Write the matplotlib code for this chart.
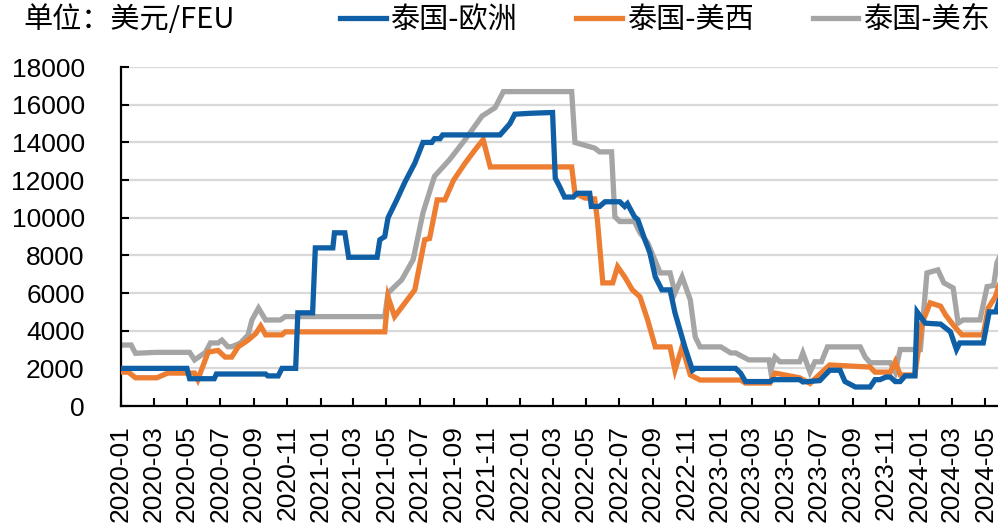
import pandas as pd
import matplotlib
matplotlib.use('Agg')
import matplotlib.pyplot as plt
import matplotlib.dates as mdates
from matplotlib.ticker import MultipleLocator

# 泰国-欧洲
eu_dates = ['2020-01-01', '2020-05-01', '2020-05-06', '2020-06-20', '2020-06-24', '2020-09-22',
            '2020-09-26', '2020-10-15', '2020-10-22', '2020-11-16', '2020-11-20', '2020-12-17',
            '2020-12-22', '2021-01-23', '2021-01-26', '2021-02-14', '2021-02-21', '2021-04-14',
            '2021-04-19', '2021-04-28', '2021-05-04', '2021-05-20', '2021-06-04', '2021-06-22',
            '2021-07-07', '2021-07-23', '2021-07-28', '2021-08-07', '2021-08-12', '2021-11-25',
            '2021-12-04', '2021-12-13', '2021-12-22', '2022-01-20', '2022-03-01', '2022-03-06',
            '2022-03-14', '2022-03-23', '2022-04-08', '2022-04-15', '2022-05-08', '2022-05-11',
            '2022-05-26', '2022-06-05', '2022-07-02', '2022-07-11', '2022-07-16', '2022-07-29',
            '2022-08-04', '2022-08-17', '2022-08-26', '2022-09-05', '2022-09-17', '2022-10-02',
            '2022-10-11', '2022-10-20', '2022-10-29', '2022-11-12', '2022-11-17', '2023-01-30',
            '2023-02-08', '2023-02-17', '2023-04-03', '2023-04-08', '2023-05-27', '2023-06-02',
            '2023-07-03', '2023-07-21', '2023-08-09', '2023-08-18', '2023-09-06', '2023-10-03',
            '2023-10-12', '2023-10-21', '2023-11-01', '2023-11-09', '2023-11-18', '2023-11-27',
            '2023-12-06', '2023-12-24', '2023-12-28', '2024-01-12', '2024-02-09', '2024-02-27',
            '2024-03-09', '2024-03-15', '2024-04-27', '2024-05-08', '2024-05-20', '2024-05-28']
eu_values = [2000, 2000, 1450, 1450, 1700, 1700,
             1600, 1600, 2000, 2000, 4950, 4950,
             8400, 8400, 9200, 9200, 7900, 7900,
             8830, 9000, 10000, 10950, 11900, 12900,
             14000, 14000, 14200, 14200, 14400, 14400,
             14700, 15000, 15500, 15550, 15590, 12100,
             11650, 11100, 11100, 11300, 11300, 10600,
             10600, 10850, 10850, 10600, 10750, 10050,
             9900, 8830, 8140, 6860, 6170, 6170,
             4950, 4050, 3140, 1900, 2000, 2000,
             1750, 1300, 1300, 1400, 1400, 1280,
             1350, 1900, 1900, 1300, 1010, 1010,
             1400, 1400, 1540, 1540, 1300, 1300,
             1600, 1600, 5000, 4400, 4350, 3940,
             3000, 3350, 3350, 5000, 5000, 5800]

# 泰国-美西
usw_dates = ['2020-01-01', '2020-01-15', '2020-01-28', '2020-03-07', '2020-03-27', '2020-05-15',
             '2020-05-21', '2020-06-09', '2020-06-27', '2020-07-10', '2020-07-22', '2020-08-03',
             '2020-08-21', '2020-09-04', '2020-09-13', '2020-09-22', '2020-10-22', '2020-10-28',
             '2021-04-28', '2021-05-04', '2021-05-16', '2021-06-22', '2021-07-10', '2021-07-19',
             '2021-08-02', '2021-08-16', '2021-09-01', '2021-09-22', '2021-10-10', '2021-10-25',
             '2021-11-07', '2022-04-05', '2022-04-11', '2022-04-29', '2022-05-17', '2022-05-22',
             '2022-06-01', '2022-06-19', '2022-06-28', '2022-07-11', '2022-07-25', '2022-08-08',
             '2022-08-22', '2022-09-05', '2022-10-02', '2022-10-11', '2022-10-24', '2022-11-08',
             '2022-11-26', '2023-02-08', '2023-02-17', '2023-04-03', '2023-04-12', '2023-05-27',
             '2023-06-15', '2023-07-21', '2023-10-03', '2023-10-12', '2023-11-09', '2023-11-18',
             '2023-11-27', '2023-12-24', '2024-01-06', '2024-01-21', '2024-02-09', '2024-02-18',
             '2024-03-06', '2024-03-19', '2024-04-27', '2024-05-06', '2024-05-19', '2024-05-28']
usw_values = [1800, 1800, 1500, 1500, 1750, 1750,
              1400, 2870, 2950, 2600, 2600, 3150,
              3500, 3850, 4250, 3780, 3780, 3940,
              3940, 5800, 4750, 6170, 8830, 8900,
              10950, 10950, 12000, 12900, 13600, 14150,
              12700, 12700, 11300, 11050, 11000, 9900,
              6540, 6540, 7400, 6860, 6170, 5800,
              4570, 3140, 3140, 1900, 3140, 1650,
              1380, 1380, 1220, 1220, 1750, 1500,
              1200, 2180, 2070, 1800, 1800, 2350,
              1650, 1650, 4400, 5480, 5300, 4840,
              4200, 3780, 3780, 5200, 5800, 6600]

# 泰国-美东
use_dates = ['2020-01-01', '2020-01-20', '2020-01-28', '2020-03-05', '2020-05-06', '2020-05-15',
             '2020-06-04', '2020-06-13', '2020-06-27', '2020-07-04', '2020-07-15', '2020-07-22',
             '2020-08-07', '2020-08-21', '2020-08-28', '2020-09-09', '2020-09-22', '2020-10-19',
             '2020-10-28', '2021-04-28', '2021-05-04', '2021-05-16', '2021-05-29', '2021-06-19',
             '2021-07-07', '2021-07-28', '2021-08-25', '2021-09-22', '2021-10-23', '2021-11-16',
             '2021-12-01', '2022-04-05', '2022-04-11', '2022-05-17', '2022-05-26', '2022-06-17',
             '2022-06-23', '2022-07-02', '2022-07-29', '2022-08-08', '2022-08-22', '2022-09-14',
             '2022-10-02', '2022-10-11', '2022-10-24', '2022-11-08', '2022-11-17', '2022-11-26',
             '2023-01-03', '2023-01-21', '2023-01-30', '2023-02-23', '2023-04-01', '2023-04-04',
             '2023-04-12', '2023-04-21', '2023-05-27', '2023-06-02', '2023-06-15', '2023-06-24',
             '2023-07-06', '2023-07-17', '2023-09-15', '2023-09-24', '2023-10-03', '2023-11-09',
             '2023-11-18', '2023-11-27', '2023-12-24', '2024-01-03', '2024-01-15', '2024-02-04',
             '2024-02-15', '2024-03-03', '2024-03-12', '2024-03-21', '2024-04-21', '2024-05-04',
             '2024-05-16', '2024-05-22', '2024-05-28']
use_values = [3240, 3240, 2800, 2850, 2850, 2450,
              2850, 3350, 3350, 3500, 3150, 3150,
              3350, 3780, 4570, 5200, 4570, 4570,
              4750, 4750, 6000, 6340, 6700, 7780,
              10270, 12200, 13100, 14150, 15400, 15850,
              16700, 16700, 14000, 13700, 13500, 13500,
              10050, 9800, 9800, 9200, 8670, 7070,
              7070, 6000, 6860, 5640, 3670, 3140,
              3140, 2820, 2820, 2450, 2450, 1900,
              2600, 2350, 2350, 2820, 1800, 2350,
              2350, 3140, 3140, 2600, 2300, 2300,
              1800, 3000, 3000, 3000, 7070, 7230,
              6540, 6270, 4400, 4570, 4570, 6340,
              6400, 7600, 8000]

series_names = ['泰国-欧洲', '泰国-美西', '泰国-美东']
colors = ['#0F5FA6', '#ED7D31', '#A5A5A5']

cjk = ['Noto Sans CJK SC', 'DejaVu Sans']
plt.rcParams['font.family'] = ['Liberation Sans', 'DejaVu Sans']

fig = plt.figure(figsize=(9.98, 5.32), dpi=100)
ax = fig.add_axes([0.121, 0.2368, 0.879, 0.637])

all_series = [(eu_dates, eu_values), (usw_dates, usw_values), (use_dates, use_values)]
lines = []
for (d, v), name, c, z in zip(all_series, series_names, colors, [4, 3, 2]):
    ln, = ax.plot(pd.to_datetime(d), v, color=c, linewidth=3.8, label=name,
                  solid_joinstyle='miter', zorder=z)
    lines.append(ln)

ax.set_ylim(0, 18000)
ax.set_xlim(pd.Timestamp('2020-01-01'), pd.Timestamp('2024-05-24'))
ax.yaxis.set_major_locator(MultipleLocator(2000))
ax.xaxis.set_major_locator(mdates.MonthLocator(bymonth=[1, 3, 5, 7, 9, 11]))
ax.xaxis.set_major_formatter(mdates.DateFormatter('%Y-%m'))

ax.grid(axis='y', color='#D9D9D9', linewidth=1.6, zorder=0)
ax.set_axisbelow(True)
for s in ['top', 'right']:
    ax.spines[s].set_visible(False)
for s in ['left', 'bottom']:
    ax.spines[s].set_linewidth(1.6)
    ax.spines[s].set_color('black')

ax.tick_params(axis='both', direction='in', length=6, width=1.5, labelsize=19)
ax.tick_params(axis='y', pad=26)
ax.tick_params(axis='x', pad=14, labelrotation=90)

fig.text(0.023, 0.962, '单位：美元/FEU', fontsize=21, family=cjk, va='center', ha='left')
fig.legend(handles=lines, labels=series_names, loc='center left', bbox_to_anchor=(0.341, 0.962),
           ncol=3, frameon=False, prop={'family': cjk, 'size': 21},
           handlelength=1.55, handletextpad=0.2, columnspacing=2.0, borderaxespad=0, borderpad=0)

plt.savefig('out.png', dpi=100)
